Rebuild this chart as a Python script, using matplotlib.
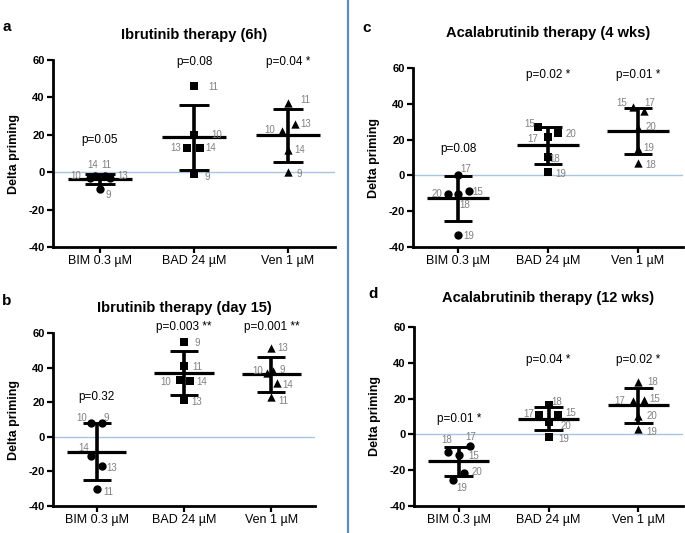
import matplotlib.pyplot as plt

plt.rcParams['font.family'] = ['Liberation Sans', 'DejaVu Sans']
plt.rcParams['axes.unicode_minus'] = False

categories = ['BIM 0.3 µM', 'BAD 24 µM', 'Ven 1 µM']
markers = ['o', 's', '^']

# a - Ibrutinib therapy (6h)
a_ids = [[10, 14, 11, 13, 9], [11, 10, 13, 14, 9], [11, 13, 10, 14, 9]]
a_vals = [[-3, -2, -2, -3, -9], [46, 20, 13, 13, -1], [37, 26, 22, 12, 0]]
a_mean = [-3.6, 18.7, 19.7]
a_sd = [2.5, 17.3, 14.1]
a_p = ['p=0.05', 'p=0.08', 'p=0.04 *']

# b - Ibrutinib therapy (day 15)
b_ids = [[10, 9, 14, 13, 11], [9, 11, 10, 14, 13], [13, 10, 9, 14, 11]]
b_vals = [[8, 8, -11, -17, -30], [55, 41, 33, 32, 21], [51.5, 37, 38, 31, 23]]
b_mean = [-8.6, 36.7, 36.1]
b_sd = [16.6, 12.7, 10.2]
b_p = ['p=0.32', 'p=0.003 **', 'p=0.001 **']

# c - Acalabrutinib therapy (4 wks)
c_ids = [[17, 20, 18, 15, 19], [15, 17, 20, 18, 19], [15, 17, 20, 19, 18]]
c_vals = [[0, -10.4, -10.4, -8.5, -33.5], [27, 21.6, 23.5, 10, 2], [38, 36, 26.6, 15, 7]]
c_mean = [-12.8, 16.8, 24.8]
c_sd = [12.5, 10.4, 13.0]
c_p = ['p=0.08', 'p=0.02 *', 'p=0.01 *']

# d - Acalabrutinib therapy (12 wks)
d_ids = [[18, 17, 15, 20, 19], [18, 17, 15, 20, 19], [18, 17, 15, 20, 19]]
d_vals = [[-9.9, -6.7, -11.7, -21.4, -25.7], [16.6, 11, 11, 6.9, -1.5], [29.2, 18.4, 19, 10.2, 3.2]]
d_mean = [-15.1, 8.8, 16.2]
d_sd = [8.1, 6.5, 9.6]
d_p = ['p=0.01 *', 'p=0.04 *', 'p=0.02 *']

# layout: horizontal jitter of points, label offsets (pixels), p-label heights
a_jit = [[-0.11, -0.05, 0.05, 0.11, 0], [0, 0, -0.07, 0.06, 0], [0, 0.07, -0.06, 0, 0]]
a_lab = [[(-14, 2), (-3, 11), (2, 11), (12, 2), (8, -6)],
         [(19, -1), (23, 0), (-12, 0), (11, 0), (13, -3)],
         [(17, 3), (11, 0), (-13, 1), (12, 0), (11, -2)]]
a_py = [17, 59, 59]

b_jit = [[-0.06, 0.06, -0.06, 0.06, 0], [0, 0, -0.05, 0.07, 0], [0, -0.05, 0.02, 0.07, 0]]
b_lab = [[(-10, 5), (4, 5), (-8, 8), (10, -2), (12, -3)],
         [(13, -1), (13, -1), (-14, -2), (12, -1), (13, -2)],
         [(11, 0), (-9, 2), (9, 1), (10, -2), (12, -4)]]
b_py = [23, 63.5, 63.5]

c_jit = [[0, -0.11, 0, 0.12, 0], [-0.11, 0, 0.11, 0, 0], [-0.06, 0.07, 0, 0, 0]]
c_lab = [[(8, 6), (-11, 0), (7, -11), (9, -1), (11, -1)],
         [(-8, 3), (-15, -2), (13, -1), (7, -2), (13, -2)],
         [(-11, 4), (5, 8), (13, 1), (11, 1), (13, -2)]]
c_py = [14.7, 56, 56]

d_jit = [[-0.12, 0.12, 0, 0.06, -0.06], [0, -0.11, 0.11, 0, 0], [0, -0.06, 0.06, 0, 0]]
d_lab = [[(-1, 12), (1, 9), (15, -1), (13, 1), (8, -8)],
         [(8, 3), (-10, 1), (12, 2), (17, -4), (15, -2)],
         [(15, 0), (-13, 0), (11, 1), (14, 0), (14, -3)]]
d_py = [8.8, 41.7, 41.7]

W, H = 685, 533
fig = plt.figure(figsize=(W / 100, H / 100), dpi=100)


def px_axes(left, top, right, bottom):
    return fig.add_axes([left / W, 1 - bottom / H, (right - left) / W, (bottom - top) / H])


def panel(ax, ids, vals, mean, sd, pvals, jit, lab, py, title, letter, title_y, letter_xy):
    for i in range(3):
        xs = [i + j for j in jit[i]]
        ax.scatter(xs, vals[i], marker=markers[i], s=36, color='black', zorder=3, linewidths=0)
        for k in range(len(ids[i])):
            ax.annotate(str(ids[i][k]), (xs[k], vals[i][k]), xytext=lab[i][k],
                        textcoords='offset pixels', ha='center', va='center',
                        fontsize=7, color='#808080')
        ax.hlines(mean[i], i - 0.34, i + 0.34, color='black', lw=2.3, zorder=2)
        ax.hlines([mean[i] - sd[i], mean[i] + sd[i]], i - 0.16, i + 0.16, color='black', lw=2.1, zorder=2)
        ax.vlines(i, mean[i] - sd[i], mean[i] + sd[i], color='black', lw=2.6, zorder=2)
        ax.text(i, py[i], pvals[i], ha='center', va='center', fontsize=8.5, clip_on=False)
    ax.axhline(0, color='#a9c4e2', lw=1.0, zorder=1)
    ax.set_xlim(-0.5, 2.5)
    ax.set_ylim(-40, 60)
    ax.set_yticks([-40, -20, 0, 20, 40, 60])
    ax.set_xticks([0, 1, 2])
    ax.set_xticklabels(categories, fontsize=9)
    for t in ax.get_yticklabels():
        t.set_fontweight('bold')
        t.set_fontsize(8)
    ax.spines['top'].set_visible(False)
    ax.spines['right'].set_visible(False)
    ax.spines['left'].set_linewidth(2)
    ax.spines['bottom'].set_linewidth(2)
    ax.tick_params(axis='both', length=4, width=1.6, pad=2)
    ax.set_ylabel('Delta priming', fontsize=9, fontweight='bold', labelpad=6)
    bb = ax.get_position()
    fig.text(bb.x0 + bb.width / 2, 1 - title_y / H, title, ha='center', va='center',
             fontsize=10.5, fontweight='bold')
    fig.text(letter_xy[0] / W, 1 - letter_xy[1] / H, letter, ha='center', va='center',
             fontsize=11, fontweight='bold')


ax_a = px_axes(53, 60, 335, 247)
panel(ax_a, a_ids, a_vals, a_mean, a_sd, a_p, a_jit, a_lab, a_py,
      'Ibrutinib therapy (6h)', 'a', 35, (7, 27))

ax_b = px_axes(53, 333, 315, 506)
panel(ax_b, b_ids, b_vals, b_mean, b_sd, b_p, b_jit, b_lab, b_py,
      'Ibrutinib therapy (day 15)', 'b', 308, (7, 301))

ax_c = px_axes(413, 68, 683, 247)
panel(ax_c, c_ids, c_vals, c_mean, c_sd, c_p, c_jit, c_lab, c_py,
      'Acalabrutinib therapy (4 wks)', 'c', 33, (367, 28))

ax_d = px_axes(414, 327, 683, 506)
panel(ax_d, d_ids, d_vals, d_mean, d_sd, d_p, d_jit, d_lab, d_py,
      'Acalabrutinib therapy (12 wks)', 'd', 298, (373, 294))

# blue separator between the columns
fig.add_artist(plt.Line2D([348 / W, 348 / W], [0, 1], color='#5b8ed0', lw=1.6))

plt.savefig('out.png', dpi=100)
